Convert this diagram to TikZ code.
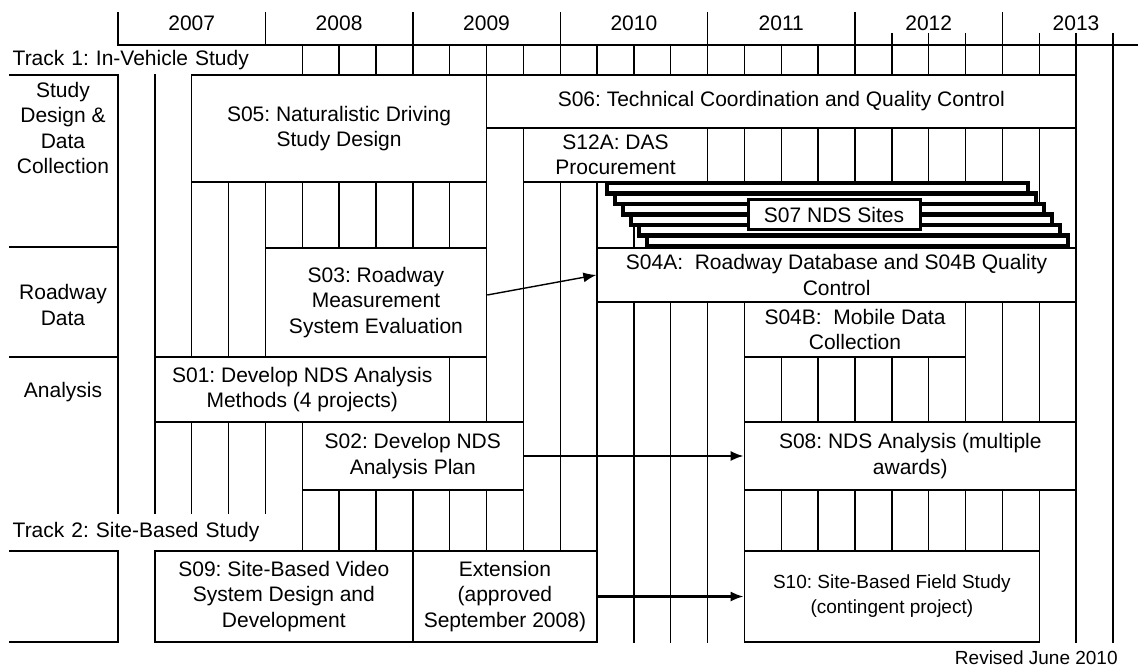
\documentclass[tikz,border=0pt]{standalone}
\usepackage{fontspec}
\setmainfont{Liberation Sans}
\frenchspacing
\usetikzlibrary{positioning,arrows.meta}
\tikzset{
  task/.style={draw,fill=white,inner sep=0pt,align=center,line width=0.75pt},
  size/.style 2 args={minimum width={#1*0.5pt},minimum height={#2*0.5pt}},
  rowlabel/.style={align=center},
  tracklabel/.style={fill=white,anchor=west,inner xsep=6pt,inner ysep=0pt,text width=133pt,align=left},
  gridline/.style={line width=0.7pt},
  ndsbar/.style={draw,fill=white,line width=2.1pt},
  ndslabel/.style={draw,fill=white,inner sep=0pt,line width=1.5pt},
  flow/.style={->,line width=1.2pt},
}
\begin{document}
\begin{tikzpicture}[x=0.5pt,y=-0.5pt,>={Latex[length=6.5pt,width=5pt]},line width=0.7pt,
  every node/.style={font=\fontsize{10.5}{12.75}\selectfont}]
  \useasboundingbox (0,0) rectangle (1138,667);
  \fill[white] (0,0) rectangle (1138,667);
  % quarter grid behind the boxes
  \foreach \k in {0,...,27} \draw[gridline] ({118+36.85*\k},45) -- ({118+36.85*\k},643);
  % year header
  \draw (118,45) -- (1138,45);
  \foreach \k in {0,4,...,24} \draw ({118+36.85*\k},12) -- ({118+36.85*\k},45);
  \foreach \k in {21,22,23,25,26,27} \draw ({118+36.85*\k},33) -- ({118+36.85*\k},45);
  \foreach \yr [count=\i from 0] in {2007,...,2012} \node (y\yr) at ({191.7+147.4*\i},23) {\yr};
  \node (y2013) at (1076,23) {2013};
  \draw (855,75) -- (1076.1,75);
  % track labels
  \node[tracklabel,minimum height=14pt] (track1) at (0,60) {Track 1: In-Vehicle Study};
  \node[tracklabel,minimum height=18pt] (track2) at (0,532) {Track 2: Site-Based Study};
  % row labels on the left
  \draw (9,75) -- (118,75) (9,247) -- (118,247) (9,357) -- (118,357);
  \draw (9,551) -- (118,551) (9,642) -- (118,642);
  \node[rowlabel] (design) at (63,128) {Study\\Design \&\\Data\\Collection};
  \node[rowlabel] (roadway) at (63,305) {Roadway\\Data};
  \node[rowlabel] (analysis) at (63,392) {Analysis};
  % study design and data collection
  \node[task,size={294.8}{107}] (s05) at (339.1,128.5) {S05: Naturalistic Driving\\Study Design};
  \node[task,size={589.6}{53}] (s06) at (781.3,101.5) {S06: Technical Coordination and Quality Control};
  \node[task,size={184.25}{54}] (s12a) at (615.5,155) {S12A: DAS\\Procurement};
  \foreach \i in {0,...,5} \draw[ndsbar] ({607+8*\i},{183+10.5*\i}) rectangle ++(421,10.5);
  \node[ndslabel,size={172}{30}] (s07) at (834,215) {S07 NDS Sites};
  % roadway data
  \node[task,size={221.1}{109}] (s03) at (375.95,302.5) {S03: Roadway\\Measurement\\System Evaluation};
  \node[task,size={479.05}{54}] (s04a) at (836.6,275) {S04A:~ Roadway Database and S04B Quality\\Control};
  \node[task,size={221.1}{55}] (s04b) at (855,329.5) {S04B:~ Mobile Data\\Collection};
  % analysis
  \node[task,size={294.8}{65}] (s01) at (302.25,389.5) {S01: Develop NDS Analysis\\Methods (4 projects)};
  \node[task,size={221.1}{68}] (s02) at (412.8,456) {S02: Develop NDS\\Analysis Plan};
  \node[task,size={331.65}{68}] (s08) at (910.3,456) {S08: NDS Analysis (multiple\\awards)};
  % track 2
  \node[task,size={257.95}{91}] (s09) at (283.8,596.5) {S09: Site-Based Video\\System Design and\\Development};
  \node[task,size={184.25}{91}] (ext) at (504.9,596.5) {Extension\\(approved\\September 2008)};
  \node[task,size={294.8}{91},font=\fontsize{9.5}{12.5}\selectfont] (s10) at (891.85,596.5) {S10: Site-Based Field Study\\(contingent project)};
  % links
  \draw[->] ([yshift=3.75pt]s03.east) -- (s04a.west);
  \draw[flow] (s02.east) -- (s08.west);
  \draw[flow] (ext.east) -- (s10.west);
  \node[anchor=east,font=\fontsize{9.5}{11}\selectfont] (revised) at (1125,658) {Revised June 2010};
\end{tikzpicture}
\end{document}
